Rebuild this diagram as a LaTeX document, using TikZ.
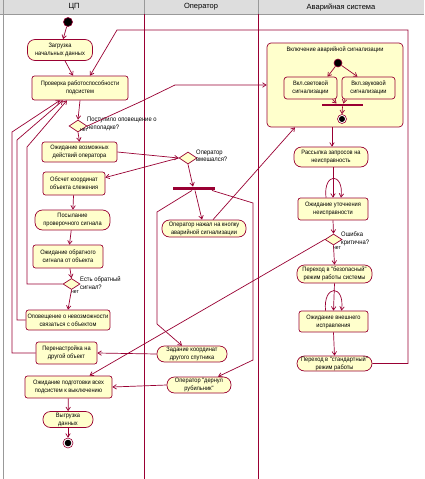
\documentclass[tikz,border=0pt]{standalone}
\usepackage{fontspec}
\setmainfont{Liberation Sans}
\newfontfamily\boxfont[FakeStretch=0.9]{Liberation Sans}
\usetikzlibrary{arrows.meta,shapes.geometric}
\definecolor{ln}{HTML}{990033}
\definecolor{fl}{HTML}{FFFFCC}
\definecolor{hd}{HTML}{DDDDDD}
\definecolor{hb}{HTML}{999999}
\begin{document}
\begin{tikzpicture}[x=1pt,y=-1pt,
  every node/.style={font=\boxfont\fontsize{6.3}{8}\selectfont, align=center, inner sep=0pt},
  st/.style={draw=ln, fill=fl, line width=0.7pt, rounded corners=2.5pt},
  act/.style={draw=ln, fill=fl, line width=0.7pt, rounded corners=7.5pt},
  dec/.style={diamond, draw=ln, fill=fl, line width=0.7pt, minimum width=18pt, minimum height=12pt},
  flow/.style={draw=ln, line width=0.7pt, -{Straight Barb[length=3.5pt,width=4.5pt]}},
  lbl/.style={font=\boxfont\fontsize{6.5}{7.5}\selectfont, align=left, anchor=west},
  hdr/.style={font=\fontsize{7.5}{8}\selectfont},
  startdot/.style={circle, draw=ln, fill=black, minimum size=9pt, line width=0.6pt},
  enddot/.style={circle, draw=ln, fill=white, minimum size=10pt, line width=0.6pt},
  barstyle/.style={fill=ln, draw=none, inner sep=0pt}
]
\useasboundingbox (0,0) rectangle (424,479);
\fill[white] (0,0) rectangle (424,479);
% header
\fill[hd] (0,0) rectangle (424,14);
\draw[hb] (0,14) -- (424,14);
\draw[hb] (3,0) -- (3,479);
\draw[hb] (144,0) -- (144,14);
\draw[hb] (258,0) -- (258,14);
\draw[ln, line width=0.7pt] (144,14) -- (144,479);
\draw[ln, line width=0.7pt] (258,14) -- (258,479);
\node[hdr] (h1) at (74,7) {ЦП};
\node[hdr] (h2) at (201,7) {Оператор};
\node[hdr] (h3) at (341,7) {Аварийная система};

% ---- CPU lane
\node[startdot] (s0) at (68,22) {};
\node[act, minimum width=65pt, minimum height=21pt] (load) at (60,50) {Загрузка\\начальных данных};
\node[st, minimum width=96pt, minimum height=24pt] (check) at (80,88) {Проверка работоспособности\\подсистем};
\node[dec] (d1) at (78,126) {};
\node[lbl] (d1l) at (87,124) {Поступило оповещение о\\неполадке?};
\node[lbl, font=\boxfont\fontsize{5.5}{6}\selectfont] (d1n) at (80,130) {нет};
\node[st, minimum width=75pt, minimum height=20pt] (waitop) at (79.5,152) {Ожидание возможных\\действий оператора};
\node[st, minimum width=62pt, minimum height=23pt] (calc) at (74,183.5) {Обсчет координат\\объекта слежения};
\node[act, minimum width=75pt, minimum height=20pt] (send) at (72.5,220) {Посылание\\проверочного сигнала};
\node[st, minimum width=70pt, minimum height=23pt] (waitsig) at (68,256.5) {Ожидание обратного\\сигнала от объекта};
\node[dec, minimum width=17pt, minimum height=11pt] (d2) at (71.5,284) {};
\node[lbl] (d2l) at (80,283) {Есть обратный\\сигнал?};
\node[lbl, font=\boxfont\fontsize{5.5}{6}\selectfont] (d2n) at (71,292) {нет};
\node[st, minimum width=84pt, minimum height=20pt] (notify) at (68,320) {Оповещение о невозможности\\связаться с объектом};
\node[st, minimum width=61pt, minimum height=22pt] (retune) at (66.5,353) {Перенастройка на\\другой объект};
\node[st, minimum width=87pt, minimum height=22pt] (waitall) at (68.5,387) {Ожидание подготовки всех\\подсистем к выключению};
\node[act, minimum width=50pt, minimum height=16pt] (unload) at (68,419.5) {Выгрузка\\данных};
\node[enddot] (e0) at (68,443) {};
\fill[black] (e0.center) circle (3.3pt);

% ---- Operator lane
\node[dec] (d3) at (188,158) {};
\node[lbl] (d3l) at (196,156) {Оператор\\вмешался?};
\node[barstyle, minimum width=42pt, minimum height=3.5pt] (bar) at (194,188.5) {};
\node[act, minimum width=84pt, minimum height=17pt] (pressed) at (204,228.5) {Оператор нажал на кнопку\\аварийной сигнализации};
\node[act, minimum width=70pt, minimum height=16pt] (newsat) at (192,354) {Задание координат\\другого спутника};
\node[act, minimum width=64pt, minimum height=16pt] (pulled) at (199,385) {Оператор "дернул\\рубильник"};

% ---- Emergency lane
\node[st, rounded corners=4pt, minimum width=136pt, minimum height=84pt] (comp) at (335,85) {};
\node (compt) at (335,49.5) {Включение аварийной сигнализации};
\node[startdot, minimum size=8pt] (is) at (338,63) {};
\node[st, rounded corners=3pt, minimum width=53pt, minimum height=22pt] (light) at (310.5,88) {Вкл.световой\\сигнализации};
\node[st, rounded corners=3pt, minimum width=53pt, minimum height=22pt] (sound) at (368.5,88) {Вкл.звуковой\\сигнализации};
\node[barstyle, minimum width=41pt, minimum height=2.5pt] (ibar) at (342.5,105) {};
\node[enddot, minimum size=9pt] (ie) at (342,119) {};
\fill[black] (ie.center) circle (3pt);

\node[act, minimum width=74pt, minimum height=20pt] (mail) at (331,157) {Рассылка запросов на\\неисправность};
\node[st, minimum width=70pt, minimum height=22pt] (waitfix) at (333,209) {Ожидание уточнения\\неисправности};
\node[dec, minimum width=17pt, minimum height=11pt] (d4) at (333.5,239.5) {};
\node[lbl] (d4l) at (341,239) {Ошибка\\критична?};
\node[lbl, font=\boxfont\fontsize{5.5}{6}\selectfont] (d4n) at (333,248) {нет};
\node[act, minimum width=75pt, minimum height=18pt] (safe) at (334.5,274) {Переход в "безопасный"\\режим работы системы};
\node[st, minimum width=69pt, minimum height=21pt] (waitext) at (333.5,321.5) {Ожидание внешнего\\исправления};
\node[act, minimum width=75pt, minimum height=15pt] (std) at (334.5,363.5) {Переход в "стандартный"\\режим работы};

% ---- connectors: CPU lane
\draw[flow] (s0) -- (load);
\draw[flow] ([xshift=5pt]load.south) -- ([xshift=-7pt]check.north);
\draw[flow] (check.south) -- (d1.north);
\draw[flow] (d1.south) -- (waitop.north);
\draw[flow] (d1.east) -- (140,102) -- (175,85) -- (comp.west);
\draw[flow] (waitop.east) -- (d3.west);
\draw[flow] (d3.west) -- ([yshift=6pt]calc.east);
\draw[flow] (calc) -- (send);
\draw[flow] (send) -- (waitsig);
\draw[flow] (waitsig) -- (d2.north);
\draw[flow] (d2.south) -- (notify.north);
\draw[flow] (d2.west) -- (27,284) -- (27,147) -- ([xshift=-13pt]check.south);
\draw[flow] (notify.west) -- (17,320) -- (17,140) -- ([xshift=-17pt]check.south);
\draw[flow] (retune.west) -- (12,353) -- (12,132) -- ([xshift=-20pt]check.south);
\draw[flow] (newsat.west) -- (retune.east);
\draw[flow] (pulled.west) -- (waitall.east);
\draw[flow] (waitall) -- (unload);
\draw[flow] (unload) -- (e0);

% ---- connectors: Operator lane
\draw[flow] (d3.south) -- ([xshift=-1pt]bar.north);
\draw[flow] ([xshift=1pt]bar.south) -- ([xshift=-2pt]pressed.north);
\draw[flow] ([xshift=-2pt]bar.south) -- (157,212) -- (157,324) -- ([xshift=-10pt]newsat.north);
\draw[flow] ([xshift=18pt]bar.south) -- (253,203) -- (253,360) -- ([xshift=19pt]pulled.north);
\draw[flow] ([xshift=9pt]pressed.north) -- ([xshift=-40pt]comp.south);

% ---- connectors: Emergency lane
\draw[flow] (is) -- ([xshift=17pt]light.north);
\draw[flow] (is) -- ([xshift=-11pt]sound.north);
\draw[flow] ([xshift=22pt]light.south) -- ([xshift=-6pt]ibar.north);
\draw[flow] ([xshift=-24pt]sound.south) -- ([xshift=1pt]ibar.north);
\draw[flow] (ibar.south) -- (ie.north);
\draw[flow] ([xshift=-3pt]comp.south) -- ([xshift=1pt]mail.north);
\draw[flow] ([xshift=2pt]mail.south) -- (waitfix.north);
\draw[flow] ([xshift=-7pt]waitfix.north) .. controls (323,172) and (344,172) .. ([xshift=8pt]waitfix.north);
\draw[flow] (waitfix.south) -- (d4.north);
\draw[flow] (d4.south) -- (safe.north);
\draw[flow] (d4.west) -- ([xshift=21pt]waitall.north);
\draw[flow] (safe.south) -- (waitext.north);
\draw[flow] ([xshift=-8pt]waitext.north) .. controls (323,284) and (345,284) .. ([xshift=8pt]waitext.north);
\draw[flow] (waitext.south) -- (std.north);
\draw[flow] (std.east) -- (408,363.5) -- (408,30) -- (117,30) -- ([xshift=10pt]check.north);
\end{tikzpicture}
\end{document}
